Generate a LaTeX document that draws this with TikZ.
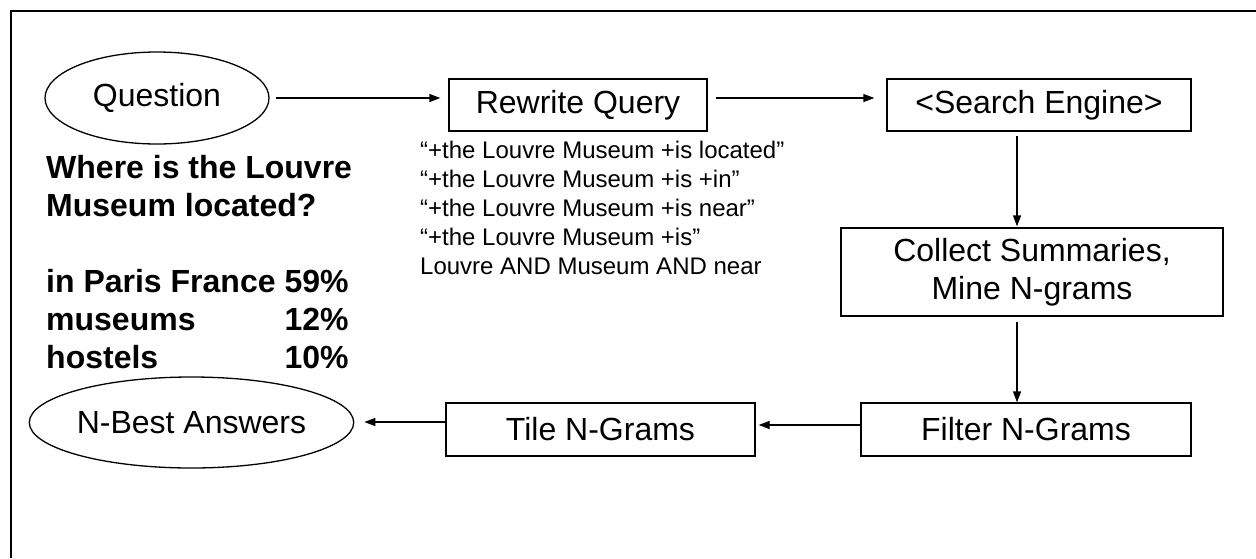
\documentclass[tikz,border=0pt]{standalone}
\usepackage{fontspec}
\setmainfont{Liberation Sans}
\usetikzlibrary{shapes.geometric,arrows.meta}
\begin{document}
\begin{tikzpicture}[x=1pt,y=-1pt,
  box/.style={draw,line width=1.3pt,inner sep=0pt,font=\fontsize{32}{38}\selectfont,align=center},
  oval/.style={draw,ellipse,line width=1.3pt,inner sep=0pt,font=\fontsize{32}{38}\selectfont},
  conn/.style={line width=1.3pt,-{Triangle[length=11pt,width=8pt]}},
  frameline/.style={line width=2pt},
  plain/.style={inner sep=0pt,anchor=base west}]
\useasboundingbox (0,0) rectangle (1256,558);
\fill[white] (0,0) rectangle (1256,558);
% frame
\coordinate (fa) at (1256,11);
\coordinate (fb) at (11,11);
\coordinate (fc) at (11,558);
\draw[frameline] (fa) -- (fb) -- (fc);
% nodes
\node[oval,minimum width=224pt,minimum height=92pt] (q) at (157,98) {Question};
\node[box,minimum width=258pt,minimum height=52pt] (rw) at (578,105) {Rewrite Query};
\node[box,minimum width=304pt,minimum height=52pt] (se) at (1039,105) {<Search Engine>};
\node[box,minimum width=382pt,minimum height=88pt] (co) at (1032,272) {Collect Summaries,\\Mine N-grams};
\node[box,minimum width=330pt,minimum height=53pt] (fi) at (1026,429.5) {Filter N-Grams};
\node[box,minimum width=309pt,minimum height=53pt] (ti) at (600.5,429.5) {Tile N-Grams};
\node[oval,minimum width=313pt,minimum height=91pt] (nb) at (191.5,422.5) {N-Best Answers};
% texts
\node[plain,font=\fontsize{24}{29}\selectfont] (ql) at (420,158) {\begin{tabular}[t]{@{}l@{}}“+the Louvre Museum +is located”\\“+the Louvre Museum +is +in”\\“+the Louvre Museum +is near”\\“+the Louvre Museum +is”\\Louvre AND Museum AND near\end{tabular}};
\node[plain,font=\bfseries\fontsize{32}{38}\selectfont] (qt) at (46,178) {\begin{tabular}[t]{@{}l@{}}Where is the Louvre\\Museum located?\end{tabular}};
\node[plain,font=\bfseries\fontsize{32}{38}\selectfont] (ans) at (46,292) {\begin{tabular}[t]{@{}l@{\hspace{0.28em}}r@{}}in Paris France & 59\%\\museums & 12\%\\hostels & 10\%\end{tabular}};
% connectors
\coordinate (vx) at (1017,0);
\coordinate (hy) at (0,425);
\coordinate (hz) at (0,422);
\draw[conn] ([xshift=6pt]q.east) -- ([xshift=-8pt]q.east -| rw.west);
\draw[conn] ([xshift=8pt]q.east -| rw.east) -- ([xshift=-12pt]q.east -| se.west);
\draw[conn] ([yshift=-4pt]se.south -| vx) -- ([yshift=1pt]co.north -| vx);
\draw[conn] ([yshift=-5pt]co.south -| vx) -- (fi.north -| vx);
\draw[conn] (fi.west |- hy) -- ([xshift=3pt]ti.east |- hy);
\draw[conn] (ti.west |- hz) -- ([xshift=10pt]nb.east |- hz);
\end{tikzpicture}
\end{document}
